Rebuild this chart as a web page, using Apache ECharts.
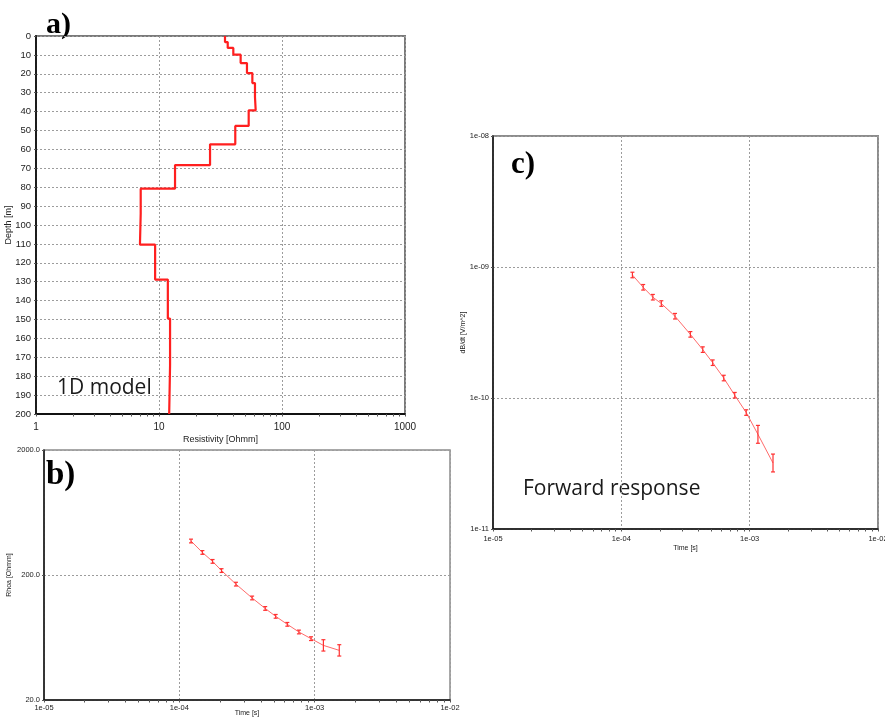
<!DOCTYPE html>
<html><head><meta charset="utf-8">
<script src="https://cdn.jsdelivr.net/npm/echarts@6/dist/echarts.min.js"></script>
<style>html,body{margin:0;padding:0;background:#fff}#c{width:885px;height:720px}</style>
</head><body><div id="c"></div>
<script>
// ---- Panel a: layered 1D resistivity model ----
const layerRho    = [34.4,36.2,40.2,46.1,51.9,57.4,60.3,61.1,53.6,41.7,26.0,13.5,7.1,7.0,9.3,11.8,12.3,12.1];
const layerBottom = [3.2,6.3,9.9,14.3,19.6,24.9,32.3,39.3,47.6,57.3,68.3,80.8,94.0,110.4,128.9,149.5,174.2,200];

// ---- Panels b & c: forward response at time gates ----
const times   = [1.22e-4,1.48e-4,1.76e-4,2.05e-4,2.62e-4,3.45e-4,4.31e-4,5.15e-4,6.28e-4,7.65e-4,9.4e-4,1.16e-3,1.52e-3];
const rhoa    = [374,303,257,217,169,131,108,93.4,80.6,70.0,61.9,54.7,49.9];
const rhoaErr = [0.035,0.035,0.035,0.035,0.035,0.035,0.035,0.035,0.035,0.035,0.035,0.11,0.11];
const dbdt    = [8.69e-10,7.0e-10,5.88e-10,5.26e-10,4.21e-10,3.06e-10,2.34e-10,1.86e-10,1.42e-10,1.05e-10,7.74e-11,5.28e-11,3.19e-11];
const dbdtErr = [0.05,0.05,0.05,0.05,0.05,0.05,0.05,0.05,0.05,0.05,0.05,0.17,0.17];

// ---- tick values ----
const resDecades  = [1,10,100,1000];
const resAllTicks = [1,2,3,4,5,6,7,8,9,10,20,30,40,50,60,70,80,90,100,200,300,400,500,600,700,800,900,1000];
const timeDecades  = [1e-5,1e-4,1e-3,1e-2];
const timeAllTicks = [1e-5,2e-5,3e-5,4e-5,5e-5,6e-5,7e-5,8e-5,9e-5,1e-4,2e-4,3e-4,4e-4,5e-4,6e-4,7e-4,8e-4,9e-4,1e-3,2e-3,3e-3,4e-3,5e-3,6e-3,7e-3,8e-3,9e-3,1e-2];
const rhoaTicks = [20,200,2000];
const dbdtTicks = [1e-11,1e-10,1e-9,1e-8];

// build step profile from layers
const profile = [];
let layerTop = 0;
for (let i = 0; i < layerRho.length; i++) {
  profile.push([layerRho[i], layerTop]);
  profile.push([layerRho[i], layerBottom[i]]);
  layerTop = layerBottom[i];
}
const lineB = times.map((t,i)=>[t, rhoa[i]]);
const errB  = times.map((t,i)=>[t, rhoa[i], rhoa[i]/(1+rhoaErr[i]), rhoa[i]*(1+rhoaErr[i])]);
const lineC = times.map((t,i)=>[t, dbdt[i]]);
const errC  = times.map((t,i)=>[t, dbdt[i], dbdt[i]/(1+dbdtErr[i]), dbdt[i]*(1+dbdtErr[i])]);

const FONT = 'Liberation Sans';
const dotted = {show:true, lineStyle:{color:'#9c9c9c', type:[2,2], width:1}};
const blackLine = w => ({show:true, onZero:false, lineStyle:{color:'#111', width:w}});
const expFmt = v => { const e = Math.round(Math.log10(v)); const a = Math.abs(e); return '1e' + (e<0?'-':'+') + (a<10?'0':'') + a; };

function mainLogX(grid, min, max, all, dec, name, nameGap, fs, nfs, fmt, margin){
  return {gridIndex:grid, type:'log', logBase:10, min, max, position:'bottom',
    axisLine: blackLine(grid===0?1.8:1.5),
    axisTick:{show:true, inside:false, length:2.5, customValues: all, lineStyle:{color:'#555', width:1}},
    axisLabel:{show:true, customValues: dec, fontSize:fs, color:'#222', fontFamily:FONT, margin, formatter: fmt, showMinLabel:true, showMaxLabel:true, hideOverlap:false},
    splitLine:{show:false},
    name, nameLocation:'middle', nameGap, nameMoveOverlap:false, nameTextStyle:{fontSize:nfs, color:'#222', fontFamily:FONT}};
}
function gridLineX(grid, min, max){
  return {gridIndex:grid, type:'log', logBase:10, min, max, position:'top',
    axisLine:{show:false}, axisTick:{show:false}, axisLabel:{show:false}, splitLine: dotted};
}

function errBar(params, api){
  const x = api.value(0), lo = api.value(2), hi = api.value(3);
  const p1 = api.coord([x, lo]), p2 = api.coord([x, hi]);
  const w = 2;
  const st = {stroke:'#ff3030', lineWidth:1.2};
  return {type:'group', children:[
    {type:'line', shape:{x1:p1[0], y1:p1[1], x2:p2[0], y2:p2[1]}, style:st},
    {type:'line', shape:{x1:p1[0]-w, y1:p1[1], x2:p1[0]+w, y2:p1[1]}, style:st},
    {type:'line', shape:{x1:p2[0]-w, y1:p2[1], x2:p2[0]+w, y2:p2[1]}, style:st}
  ]};
}

const option = {
  animation:false,
  backgroundColor:'#fff',
  textStyle:{fontFamily:FONT},
  grid:[
    {left:36, top:36, width:369, height:378, show:true, borderColor:'#7a7a7a', borderWidth:2, containLabel:false, outerBoundsMode:'none'},
    {left:44, top:450, width:406, height:250, show:true, borderColor:'#8c8c8c', borderWidth:1.5, containLabel:false, outerBoundsMode:'none'},
    {left:493, top:136, width:385, height:393, show:true, borderColor:'#8c8c8c', borderWidth:2, containLabel:false, outerBoundsMode:'none'}
  ],
  xAxis:[
    mainLogX(0, 1, 1000, resAllTicks, resDecades, 'Resistivity [Ohmm]', 21, 10, 9, v=>String(Math.round(v)), 8),
    gridLineX(0, 1, 1000),
    mainLogX(1, 1e-5, 1e-2, timeAllTicks, timeDecades, 'Time [s]', 10, 7.5, 7, expFmt, 4),
    gridLineX(1, 1e-5, 1e-2),
    mainLogX(2, 1e-5, 1e-2, timeAllTicks, timeDecades, 'Time [s]', 16, 7.5, 7, expFmt, 6),
    gridLineX(2, 1e-5, 1e-2)
  ],
  yAxis:[
    {gridIndex:0, type:'value', inverse:true, min:0, max:200, interval:10,
     axisLine: blackLine(1.8), axisTick:{show:true, length:2, lineStyle:{color:'#555'}},
     axisLabel:{fontSize:9.5, color:'#222', fontFamily:FONT, margin:5, showMinLabel:true, showMaxLabel:true, hideOverlap:false},
     splitLine: dotted,
     name:'Depth [m]', nameLocation:'middle', nameGap:23, nameMoveOverlap:false, nameTextStyle:{fontSize:9, color:'#222', fontFamily:FONT}},
    {gridIndex:1, type:'log', logBase:10, min:20, max:2000,
     axisLine: blackLine(1.5), axisTick:{show:true, length:2, customValues: rhoaTicks, lineStyle:{color:'#555'}},
     axisLabel:{customValues: rhoaTicks, fontSize:7.5, color:'#222', fontFamily:FONT, margin:4, formatter: v=>Number(v).toFixed(1), showMinLabel:true, showMaxLabel:true, hideOverlap:false},
     splitLine: dotted,
     name:'Rhoa [Ohmm]', nameLocation:'middle', nameGap:31, nameMoveOverlap:false, nameTextStyle:{fontSize:7, color:'#222', fontFamily:FONT}},
    {gridIndex:2, type:'log', logBase:10, min:1e-11, max:1e-8,
     axisLine: blackLine(1.5), axisTick:{show:true, length:2, customValues: dbdtTicks, lineStyle:{color:'#555'}},
     axisLabel:{customValues: dbdtTicks, fontSize:7.5, color:'#222', fontFamily:FONT, margin:4, formatter: expFmt, showMinLabel:true, showMaxLabel:true, hideOverlap:false},
     splitLine: dotted,
     name:'dB/dt [V/m^2]', nameLocation:'middle', nameGap:26, nameMoveOverlap:false, nameTextStyle:{fontSize:7, color:'#222', fontFamily:FONT}}
  ],
  series:[
    {type:'line', xAxisIndex:0, yAxisIndex:0, data:profile, showSymbol:false, symbol:'none',
     lineStyle:{color:'#ff1f1f', width:2.2}, z:5},
    {type:'line', xAxisIndex:2, yAxisIndex:1, data:lineB, showSymbol:false, symbol:'none',
     lineStyle:{color:'#ff6b6b', width:1}, z:5},
    {type:'custom', xAxisIndex:2, yAxisIndex:1, data:errB, z:6, renderItem: errBar},
    {type:'line', xAxisIndex:4, yAxisIndex:2, data:lineC, showSymbol:false, symbol:'none',
     lineStyle:{color:'#ff6b6b', width:1}, z:5},
    {type:'custom', xAxisIndex:4, yAxisIndex:2, data:errC, z:6, renderItem: errBar}
  ],
  graphic:[
    {type:'text', left:46, top:10, style:{text:'a)', fontSize:30, fontWeight:'bold', fontFamily:'Liberation Serif', fill:'#000'}},
    {type:'text', left:46, top:459, style:{text:'b)', fontSize:33, fontWeight:'bold', fontFamily:'Liberation Serif', fill:'#000'}},
    {type:'text', left:511, top:149, style:{text:'c)', fontSize:31, fontWeight:'bold', fontFamily:'Liberation Serif', fill:'#000'}},
    {type:'text', left:57, top:378, style:{text:'1D model', fontSize:21, fontFamily:'Open Sans', fill:'#1a1a1a'}},
    {type:'text', left:523, top:479, style:{text:'Forward response', fontSize:21, fontFamily:'Open Sans', fill:'#1a1a1a'}}
  ]
};

const chart = echarts.init(document.getElementById('c'), null, {renderer:'canvas'});
chart.setOption(option);
</script>
</body></html>
